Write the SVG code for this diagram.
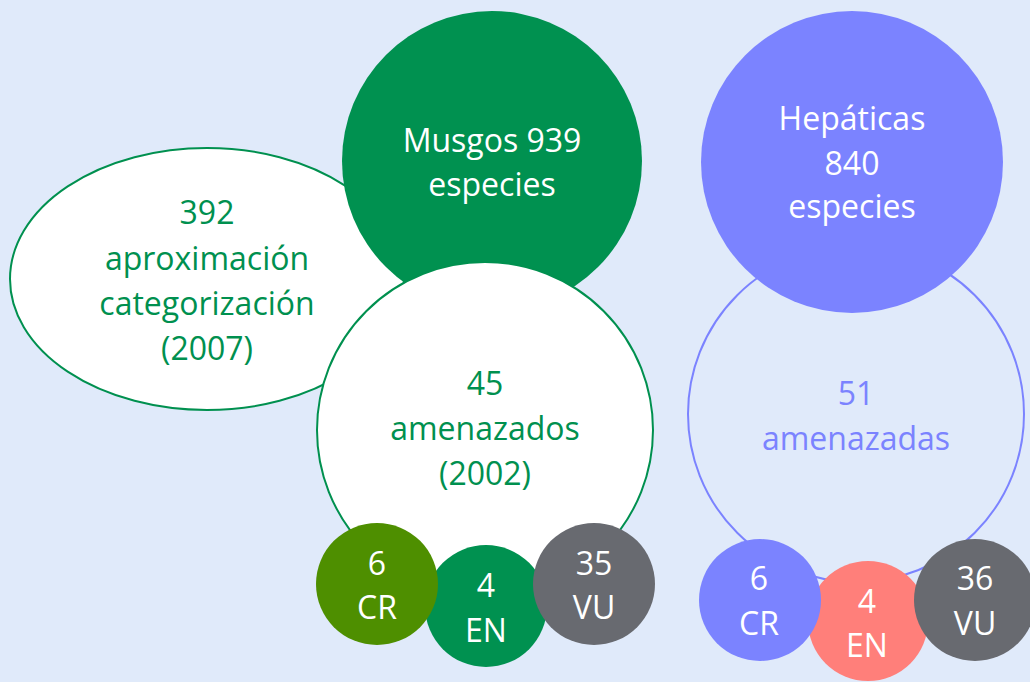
<svg xmlns="http://www.w3.org/2000/svg" width="1030" height="682" viewBox="0 0 1030 682">
<style>
text{font-family:"Open Sans","Noto Sans",sans-serif;font-size:32px;text-anchor:middle}
.w{fill:#ffffff}
.g{fill:#00904f}
.b{fill:#7b83ff}
</style>
<rect width="1030" height="682" fill="#e0eafa"/>
<g id="aprox">
<ellipse cx="207" cy="279" rx="197" ry="131" fill="#ffffff" stroke="#00904f" stroke-width="2"/>
<text class="g" x="207" y="224">392</text>
<text class="g" x="207" y="270">aproximación</text>
<text class="g" x="207" y="315">categorización</text>
<text class="g" x="207" y="360">(2007)</text>
</g>
<g id="musgos">
<circle cx="492" cy="161" r="150" fill="#009150"/>
<text class="w" x="492" y="152">Musgos 939</text>
<text class="w" x="492" y="196">especies</text>
</g>
<g id="musgos-amenazados">
<circle cx="485" cy="430" r="168" fill="#ffffff" stroke="#00904f" stroke-width="2"/>
<text class="g" x="485" y="395">45</text>
<text class="g" x="485" y="440">amenazados</text>
<text class="g" x="485" y="485">(2002)</text>
</g>
<g id="musgos-en">
<circle cx="486" cy="606" r="61" fill="#009150"/>
<text class="w" x="486" y="597">4</text>
<text class="w" x="486" y="642">EN</text>
</g>
<g id="musgos-cr">
<circle cx="377" cy="584" r="61" fill="#4e8f00"/>
<text class="w" x="377" y="575">6</text>
<text class="w" x="377" y="619">CR</text>
</g>
<g id="musgos-vu">
<circle cx="594" cy="584" r="61" fill="#686a70"/>
<text class="w" x="594" y="575">35</text>
<text class="w" x="594" y="619">VU</text>
</g>
<g id="hepaticas-amenazadas">
<circle cx="856" cy="414" r="168" fill="none" stroke="#7b83ff" stroke-width="2"/>
<text class="b" x="856" y="405">51</text>
<text class="b" x="856" y="450">amenazadas</text>
</g>
<g id="hepaticas">
<circle cx="852" cy="162" r="151" fill="#7b83ff"/>
<text class="w" x="852" y="130">Hepáticas</text>
<text class="w" x="852" y="175">840</text>
<text class="w" x="852" y="218">especies</text>
</g>
<g id="hepaticas-en">
<circle cx="868" cy="621" r="60" fill="#ff7f7a"/>
<text class="w" x="867" y="613">4</text>
<text class="w" x="867" y="657">EN</text>
</g>
<g id="hepaticas-cr">
<circle cx="760" cy="600" r="61" fill="#7b83ff"/>
<text class="w" x="759" y="590">6</text>
<text class="w" x="759" y="635">CR</text>
</g>
<g id="hepaticas-vu">
<circle cx="975" cy="600" r="61" fill="#686a70"/>
<text class="w" x="975" y="590">36</text>
<text class="w" x="975" y="635">VU</text>
</g>
<g id="connectors"/>
</svg>
